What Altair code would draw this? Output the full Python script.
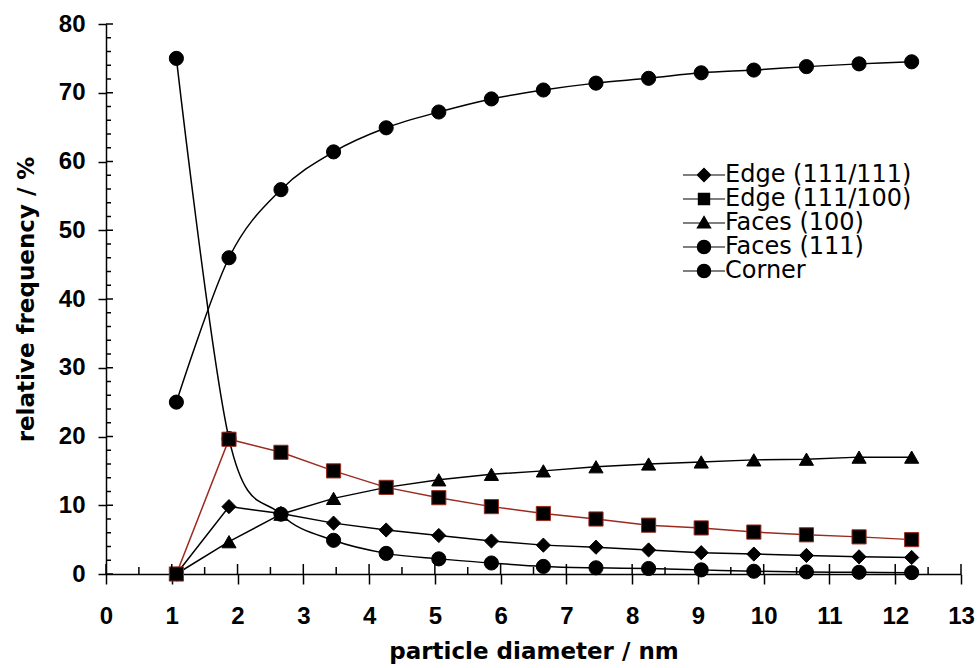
import altair as alt
import pandas as pd

# ---------------- data ----------------
x_nm = [1.07, 1.87, 2.66, 3.46, 4.26, 5.06, 5.86, 6.65, 7.45, 8.25, 9.05, 9.85, 10.65, 11.45, 12.25]

series_names = ["Edge (111/111)", "Edge (111/100)", "Faces (100)", "Faces (111)", "Corner"]

edge_111_111 = [0.0, 9.8, 8.8, 7.4, 6.4, 5.6, 4.8, 4.2, 3.9, 3.5, 3.1, 2.9, 2.7, 2.5, 2.4]
edge_111_100 = [0.0, 19.6, 17.7, 15.0, 12.6, 11.1, 9.8, 8.8, 8.0, 7.1, 6.7, 6.1, 5.7, 5.4, 5.0]
faces_100 = [0.0, 4.7, 8.7, 11.0, 12.6, 13.7, 14.5, 15.0, 15.6, 16.0, 16.3, 16.6, 16.7, 17.0, 17.0]
faces_111 = [25.0, 46.0, 55.9, 61.4, 64.9, 67.2, 69.1, 70.4, 71.4, 72.1, 72.9, 73.3, 73.8, 74.2, 74.5]
corner = [75.0, 19.7, 8.7, 4.9, 3.0, 2.2, 1.6, 1.1, 0.9, 0.8, 0.6, 0.4, 0.3, 0.25, 0.2]

x_major_ticks = list(range(0, 14))
x_minor_ticks = [i + 0.5 for i in range(13)]
y_major_ticks = list(range(0, 81, 10))
y_minor_ticks = [v for v in range(2, 80, 2) if v % 10 != 0]

smooth_series = ["Faces (111)", "Corner"]
straight_series = ["Edge (111/111)", "Edge (111/100)", "Faces (100)"]

# ---------------- styling ----------------
FONT = "Liberation Sans"
TITLE_FONT = "DejaVu Sans"
LEGEND_FONT = "DejaVu Sans"
line_colors = ["black", "#9c2a1e", "black", "black", "black"]
point_shapes = ["diamond", "square", "triangle-up", "circle", "circle"]
legend_paths = [
    "M-3,0H3M-0.95,0L0,-0.95L0.95,0L0,0.95Z",
    "M-3,0H3M-0.8,-0.8H0.8V0.8H-0.8Z",
    "M-3,0H3M0,-0.95L0.95,0.7L-0.95,0.7Z",
    "M-3,0H3M-0.95,0A0.95,0.95,0,1,0,0.95,0A0.95,0.95,0,1,0,-0.95,0Z",
    "M-3,0H3M-0.95,0A0.95,0.95,0,1,0,0.95,0A0.95,0.95,0,1,0,-0.95,0Z",
]

values = {
    "Edge (111/111)": edge_111_111,
    "Edge (111/100)": edge_111_100,
    "Faces (100)": faces_100,
    "Faces (111)": faces_111,
    "Corner": corner,
}
draw_order = ["Corner", "Faces (111)", "Faces (100)", "Edge (111/111)", "Edge (111/100)"]
rows = []
for name in draw_order:
    for xv, yv in zip(x_nm, values[name]):
        rows.append({"x": xv, "y": yv, "series": name})
df = pd.DataFrame(rows)

W, H = 855, 550
xs = alt.Scale(domain=[0, 13], nice=False, zero=False)
ys = alt.Scale(domain=[0, 80], nice=False)

x_axis = alt.Axis(
    values=x_major_ticks, format="d", title="particle diameter / nm",
    labelFont=FONT, labelFontSize=24, labelFontWeight="bold", labelColor="black",
    labelPadding=20, labelFlush=False, labelOverlap=False,
    tickSize=10, tickColor="black", tickWidth=1.5,
    domainColor="black", domainWidth=1.5, grid=False,
    titleFont=TITLE_FONT, titleFontSize=23, titleFontWeight="bold", titleColor="black",
    titlePadding=12,
)
y_axis = alt.Axis(
    values=y_major_ticks, format="d", title="relative frequency / %",
    labelFont=FONT, labelFontSize=24, labelFontWeight="bold", labelColor="black",
    labelPadding=13, labelFlush=False, labelOverlap=False,
    tickSize=8, tickColor="black", tickWidth=1.5,
    domainColor="black", domainWidth=1.5, grid=False,
    titleFont=TITLE_FONT, titleFontSize=23, titleFontWeight="bold", titleColor="black",
    titlePadding=20,
)

X = alt.X("x:Q", scale=xs, axis=x_axis)
Y = alt.Y("y:Q", scale=ys, axis=y_axis)

stroke_scale = alt.Scale(domain=series_names, range=line_colors)

lines_smooth = alt.Chart(df).transform_filter(
    alt.FieldOneOfPredicate(field="series", oneOf=smooth_series)
).mark_line(interpolate="cardinal", tension=0, strokeWidth=1.5).encode(
    x=X, y=Y,
    stroke=alt.Stroke("series:N", scale=stroke_scale, legend=None),
    detail="series:N",
)

lines_straight = alt.Chart(df).transform_filter(
    alt.FieldOneOfPredicate(field="series", oneOf=straight_series)
).mark_line(interpolate="linear", strokeWidth=1.5).encode(
    x=X, y=Y,
    stroke=alt.Stroke("series:N", scale=stroke_scale, legend=None),
    detail="series:N",
)

points = alt.Chart(df).mark_point(filled=True, fill="black", opacity=1, size=200, strokeWidth=1).encode(
    x=X, y=Y,
    shape=alt.Shape("series:N", scale=alt.Scale(domain=series_names, range=point_shapes), legend=None),
    stroke=alt.Stroke("series:N", scale=stroke_scale, legend=None),
)

legend_layer = alt.Chart(df).mark_point(filled=True, fill="black", stroke="black", opacity=0, size=196).encode(
    x=X, y=Y,
    shape=alt.Shape(
        "series:N",
        scale=alt.Scale(domain=series_names, range=legend_paths),
        legend=alt.Legend(
            title=None, orient="none", legendX=586, legendY=139,
            labelFont=LEGEND_FONT, labelFontSize=24, labelColor="black", labelLimit=0,
            symbolOpacity=1, symbolSize=196, symbolStrokeWidth=1.2,
            labelOffset=9, rowPadding=0, padding=0,
        ),
    ),
)

xmaj = alt.Chart(pd.DataFrame({"x": x_major_ticks})).mark_rule(color="black", strokeWidth=1.5).encode(
    x=X, y=alt.value(H), y2=alt.value(H - 10)
)
xmin = alt.Chart(pd.DataFrame({"x": x_minor_ticks})).mark_rule(color="black", strokeWidth=1.5).encode(
    x=X, y=alt.value(H), y2=alt.value(H - 7)
)
ymaj = alt.Chart(pd.DataFrame({"y": y_major_ticks})).mark_rule(color="black", strokeWidth=1.5).encode(
    y=Y, x=alt.value(0), x2=alt.value(7)
)
ymin = alt.Chart(pd.DataFrame({"y": y_minor_ticks})).mark_rule(color="black", strokeWidth=1.5).encode(
    y=Y, x=alt.value(0), x2=alt.value(5)
)

chart = alt.layer(lines_smooth, lines_straight, points, legend_layer, xmaj, xmin, ymaj, ymin).resolve_scale(
    shape="independent"
).properties(
    width=W, height=H,
    autosize=alt.AutoSizeParams(type="none"),
    padding={"left": 106, "top": 24, "right": 16, "bottom": 94},
    background="white",
).configure_view(stroke=None)

chart.save("out.html", embed_options={"renderer": "svg", "actions": False})
